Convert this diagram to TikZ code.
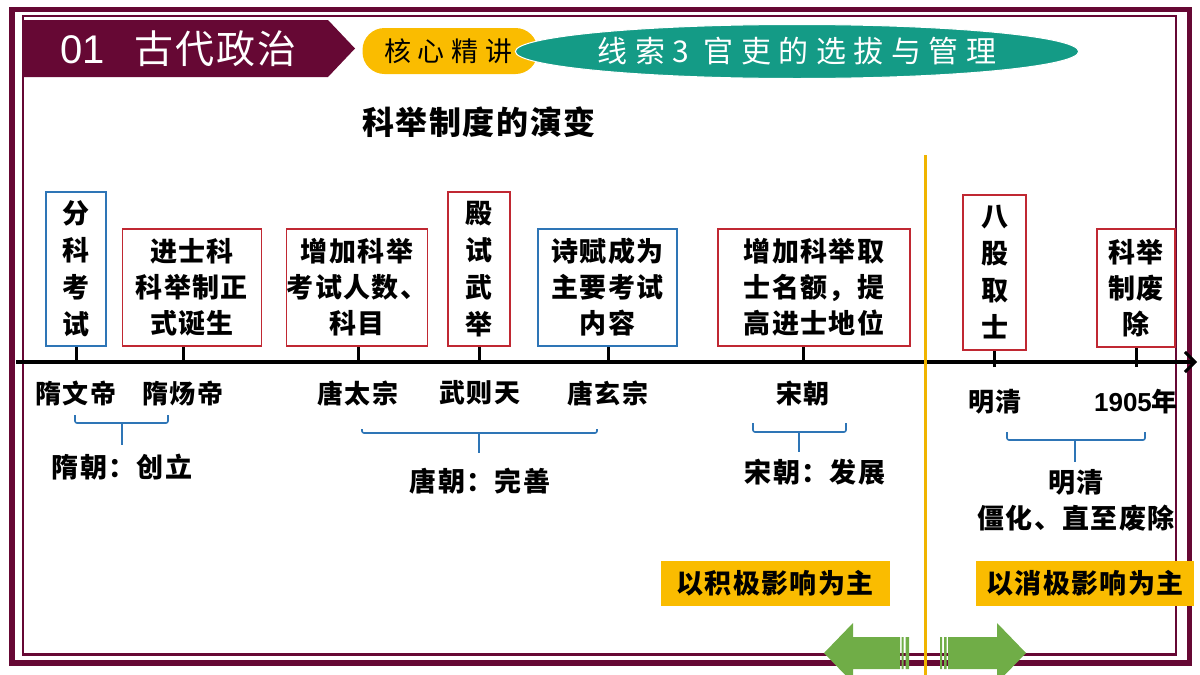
\documentclass[tikz,border=0pt]{standalone}
\usepackage{fontspec}
\setmainfont{Noto Sans CJK SC}
\newfontfamily\cjksp[LetterSpace=5]{Noto Sans CJK SC}
\newfontfamily\cjkwide[LetterSpace=25]{Noto Sans CJK SC}
\newfontfamily\arialf{Liberation Sans}
\usetikzlibrary{arrows.meta,shapes.geometric}
\definecolor{frm}{RGB}{102,8,52}
\definecolor{bxred}{RGB}{192,40,50}
\definecolor{bxblue}{RGB}{46,117,182}
\definecolor{amber}{RGB}{250,188,0}
\definecolor{hdteal}{RGB}{20,155,134}
\definecolor{grn}{RGB}{112,173,71}
\definecolor{goldln}{RGB}{240,180,0}
\newcommand{\fsz}[2]{\fontsize{#1}{#2}\selectfont}
\tikzset{
  ev/.style={rectangle,draw=bxred,line width=1.2pt,inner sep=0pt,align=center,font=\cjksp\bfseries\fsz{27}{36}},
  evb/.style={ev,draw=bxblue},
  evv/.style={font=\cjksp\bfseries\fsz{27}{37}},
  tk/.style={draw=black,line width=3pt},
  ax/.style={draw=black,line width=3.5pt,-{Straight Barb[length=10pt,width=20pt,line width=3pt]}},
  dt/.style={font=\cjksp\bfseries\fsz{26}{28},inner sep=0pt},
  br/.style={draw=bxblue,line width=1.6pt,rounded corners=2pt},
  era/.style={font=\cjksp\bfseries\fsz{27}{36},inner sep=0pt,align=center},
  tag/.style={fill=amber,inner sep=0pt,minimum height=45pt,font=\cjksp\bfseries\fsz{27}{30}},
  arw/.style={fill=grn,draw=none},
}
\begin{document}
\begin{tikzpicture}[x=1pt,y=-1pt]
\useasboundingbox (0,0) rectangle (1200,675);
% frame and header
\draw[frm,line width=5.5pt] (12,9.5) rectangle (1189.5,663);
\draw[frm,line width=2.5pt] (23,16) rectangle (1176,654.5);
\fill[frm] (24,20) -- (328,20) -- (355,48.5) -- (328,77) -- (24,77) -- cycle;
\node[anchor=west,text=white,inner sep=0pt,font=\fsz{40}{44}] (sec) at (60,49)
  {{\arialf 01}\hspace{30pt}{\cjksp\fsz{39}{44}古代政治}};
\node[fill=amber,rounded corners=22pt,minimum width=175pt,minimum height=46pt,inner sep=0pt] (pill) at (450,51) {};
\node[anchor=west,inner sep=0pt,font=\cjkwide\fsz{27}{30}] (pilltxt) at (384,51) {核心精讲};
\node[ellipse,fill=hdteal,draw=white,line width=1pt,minimum width=550pt,minimum height=54pt,inner sep=0pt,
  text=white,font=\cjkwide\fsz{30}{34}] (clue) at (797,51.5) {线索3 官吏的选拔与管理};
\node[font=\cjksp\bfseries\fsz{32}{34},inner sep=0pt] (title) at (479,122) {科举制度的演变};
% timeline
\coordinate (a0) at (16,362);
\coordinate (a1) at (1197,362);
\draw[ax] (a0) -- (a1);
\coordinate (d1) at (76,362);
\coordinate (d2) at (183,362);
\coordinate (d3) at (358,362);
\coordinate (d4) at (479,362);
\coordinate (d5) at (608,362);
\coordinate (d6) at (803,362);
\coordinate (d7) at (994,367);
\coordinate (d8) at (1136,367);
% events above the line
\node[evb,evv,minimum width=60pt,minimum height=154pt] (b1) at (76,269) {分\\科\\考\\试};
\node[ev,minimum width=139pt,minimum height=117pt] (b2) at (192,287.5) {进士科\\科举制正\\式诞生};
\node[ev,minimum width=140pt,minimum height=117pt] (b3) at (357,287.5) {增加科举\\考试人数、\\科目};
\node[ev,evv,minimum width=62pt,minimum height=154pt] (b4) at (479,269) {殿\\试\\武\\举};
\node[evb,minimum width=139pt,minimum height=117pt] (b5) at (607.5,287.5) {诗赋成为\\主要考试\\内容};
\node[ev,minimum width=192pt,minimum height=117pt] (b6) at (814,287.5) {增加科举取\\士名额，提\\高进士地位};
\node[ev,evv,minimum width=63pt,minimum height=155pt] (b7) at (994.5,272.5) {八\\股\\取\\士};
\node[ev,minimum width=78pt,minimum height=118pt] (b8) at (1136,288) {科举\\制废\\除};
\foreach \i in {1,...,8}
  \draw[tk] (d\i) -- (d\i |- b\i.south);
% rulers below the line
\node[dt] (n1) at (76,393) {隋文帝};
\node[dt] (n2) at (183,393) {隋炀帝};
\node[dt] (n3) at (358,393) {唐太宗};
\node[dt] (n4) at (480,393) {武则天};
\node[dt] (n5) at (608,393) {唐玄宗};
\node[dt] (n6) at (803,393) {宋朝};
\node[dt] (n7) at (995,402) {明清};
\node[dt] (n8) at (1136,402) {{\arialf\bfseries 1905}年};
% dynasties
\draw[br] (75,415) -- (75,423) -- (168,423) -- (168,415);
\draw[br] (122,423) -- (122,445);
\node[era] (e1) at (122,467) {隋朝：创立};
\draw[br] (362,429) -- (362,433) -- (597,433) -- (597,429);
\draw[br] (479,433) -- (479,453);
\node[era] (e2) at (480,481) {唐朝：完善};
\draw[br] (753,423) -- (753,432) -- (846,432) -- (846,423);
\draw[br] (799,432) -- (799,452);
\node[era] (e3) at (815,472) {宋朝：发展};
\draw[br] (1007,432) -- (1007,440) -- (1145,440) -- (1145,432);
\draw[br] (1075,440) -- (1075,462);
\node[era] (e4) at (1076,500) {明清\\僵化、直至废除};
% divide
\draw[goldln,line width=3pt] (925,155) -- (925,680);
\node[tag,minimum width=229pt] (pos) at (775,583.5) {以积极影响为主};
\node[tag,minimum width=218pt] (neg) at (1085,583.5) {以消极影响为主};
\fill[arw] (824,653) -- (853,623) -- (853,637) -- (900,637) -- (900,669) -- (853,669) -- (853,683) -- cycle;
\fill[arw] (901.5,637) rectangle (903.5,669) (905.5,637) rectangle (909,669);
\fill[arw] (1026,653) -- (997,623) -- (997,637) -- (948,637) -- (948,669) -- (997,669) -- (997,683) -- cycle;
\fill[arw] (940,637) rectangle (942,669) (944,637) rectangle (946.5,669);
\end{tikzpicture}
\end{document}
